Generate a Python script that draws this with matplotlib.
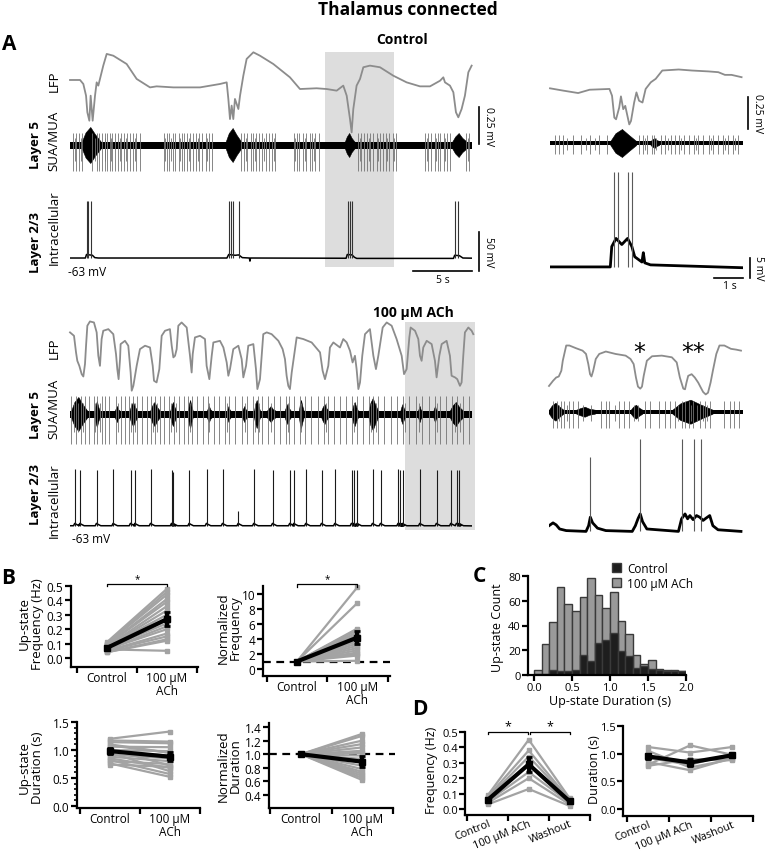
import matplotlib.pyplot as plt
from matplotlib.patches import Patch
from matplotlib.transforms import ScaledTranslation

W, H = 766, 853
plt.rcParams['font.family'] = ['Open Sans', 'DejaVu Sans']

T_MAIN = 34.07    # s shown in the long traces
T_CTRL_IN = 6.72  # s shown in control inset
T_ACH_IN = 6.76   # s shown in ACh inset

# ---------------- A: control, long traces ----------------
ctrl_lfp = [(0.0, 0.0), (0.85, 0.0), (1.13, -0.027), (1.36, -0.106), (1.47, -0.218), (1.64, -0.275),
            (1.75, -0.106), (1.92, -0.275), (2.12, -0.106), (2.26, -0.016), (2.40, -0.038), (2.54, 0.007),
            (2.82, 0.097), (3.11, 0.176), (3.67, 0.164), (4.80, 0.108), (5.65, 0.007), (6.78, -0.050),
            (7.34, -0.043), (8.76, -0.050), (11.02, -0.050), (12.71, -0.027), (13.28, -0.016), (13.42, -0.128),
            (13.56, -0.264), (13.70, -0.173), (13.84, -0.264), (13.98, -0.128), (14.27, -0.196), (14.41, -0.106),
            (14.69, 0.029), (14.97, 0.142), (15.54, 0.187), (16.10, 0.164), (17.23, 0.108), (18.64, 0.018),
            (19.49, -0.061), (20.90, -0.056), (21.75, -0.061), (22.60, -0.072), (23.16, -0.038), (23.45, -0.106),
            (23.73, -0.264), (23.87, -0.354), (24.01, -0.196), (24.29, -0.038), (24.58, 0.007), (24.86, 0.086),
            (25.42, 0.097), (26.27, 0.086), (27.40, 0.029), (28.53, -0.016), (29.66, -0.043), (30.51, -0.043),
            (31.36, -0.005), (31.64, 0.018), (31.78, -0.016), (32.20, -0.038), (32.49, -0.083), (32.71, -0.218),
            (32.91, -0.252), (33.19, -0.196), (33.47, -0.106), (33.76, 0.052), (34.04, 0.097)]
ctrl_window = (21.6, 27.5)
ctrl_mua_bursts = [(1.0, 2.6, 18), (13.2, 14.5, 17), (23.3, 24.1, 12), (32.4, 33.6, 12)]
ctrl_mua_spikes = [0.25, 0.55, 0.8, 1.05, 1.9, 2.25, 2.5, 2.7, 2.95, 3.15, 3.4, 3.6, 3.85, 4.1, 4.3, 4.6,
                   4.85, 5.1, 5.35, 5.6, 5.95, 7.95, 8.2, 8.4, 8.7, 8.9, 9.2, 9.45, 9.7, 9.9, 10.2, 10.45,
                   10.7, 10.95, 11.2, 11.5, 11.75, 12.05, 14.5, 14.75, 15.0, 15.3, 15.55, 15.8, 16.05, 16.3,
                   16.6, 16.85, 17.1, 17.4, 18.95, 19.2, 19.45, 19.75, 20.0, 20.3, 20.55, 20.8, 21.1, 24.4,
                   24.65, 24.9, 25.2, 25.45, 25.7, 26.0, 26.25, 26.5, 26.8, 27.05, 27.35, 27.6, 30.1, 30.35,
                   30.6, 30.9, 31.15, 31.4, 31.7, 31.95, 32.2, 33.6, 33.85]
ctrl_mua_small = [0.4, 0.95, 2.1, 3.0, 3.5, 4.2, 4.75, 5.5, 8.05, 8.55, 9.3, 10.1, 10.85, 11.6, 14.9,
                  15.7, 16.45, 17.25, 19.1, 19.9, 20.7, 24.55, 25.3, 26.1, 26.9, 27.5, 30.25, 31.05,
                  31.8, 33.7]
ctrl_vm = [(0.0, -63), (1.3, -63), (1.4, -58.5), (1.9, -59.5), (2.1, -62.5), (2.4, -63), (13.3, -63),
           (13.45, -58.5), (14.0, -59.5), (14.3, -59), (14.6, -62.5), (15.2, -63), (15.25, -67), (15.3, -63),
           (23.4, -63.3), (23.5, -58.5), (23.9, -59), (24.1, -62), (24.3, -63.5), (32.5, -63.5),
           (32.6, -59.5), (33.0, -60), (33.3, -63), (34.04, -63.2)]
ctrl_spikes = [1.41, 1.55, 1.75, 13.45, 13.62, 13.84, 14.29, 23.53, 23.73, 23.93, 32.63, 32.91]

# ---------------- A: control inset ----------------
ctrl_in_lfp = [(0, 0), (0.46, -0.018), (0.98, -0.037), (1.38, -0.011), (2.07, -0.005), (2.16, -0.058),
               (2.24, -0.229), (2.30, -0.242), (2.41, -0.150), (2.47, -0.063), (2.55, -0.163), (2.62, -0.137),
               (2.67, -0.189), (2.76, -0.282), (2.82, -0.255), (2.93, -0.111), (3.01, -0.032), (3.10, -0.097),
               (3.22, -0.111), (3.33, -0.005), (3.51, 0.047), (3.68, 0.074), (3.91, 0.139), (4.48, 0.147),
               (4.94, 0.139), (5.52, 0.132), (5.86, 0.126), (6.09, 0.105), (6.32, 0.105), (6.67, 0.087)]
ctrl_in_bursts = [(2.1, 3.0, 14), (3.5, 3.8, 5)]
ctrl_in_spikes = [0.17, 0.32, 0.46, 0.8, 1.09, 1.38, 1.72, 1.98, 3.1, 3.24, 3.39, 3.54, 3.62, 3.85, 4.02,
                  4.2, 4.34, 4.48, 4.66, 4.83, 5.0, 5.17, 5.34, 5.52, 5.69, 5.86, 6.03, 6.2, 6.38, 6.53]
ctrl_in_small = [0.6, 1.25, 1.55, 3.3, 3.7, 4.1, 4.56, 5.1, 5.6, 6.1, 6.45]
ctrl_in_vm = [(0, -63), (2.1, -63), (2.15, -58), (2.3, -56), (2.5, -57.5), (2.7, -56), (2.85, -58),
              (2.95, -60.5), (3.2, -61.8), (3.25, -59.5), (3.3, -62), (3.5, -62.5), (6.72, -63.2)]
ctrl_in_spk = [2.24, 2.36, 2.70, 2.84]

# ---------------- A: 100 uM ACh, long traces ----------------
ach_lfp = [(0, 0.158), (0.34, 0.135), (0.51, 0.023), (0.62, -0.034), (0.79, -0.068), (0.99, -0.124),
           (1.13, -0.140), (1.27, -0.056), (1.36, 0.068), (1.47, 0.203), (1.69, 0.232), (2.03, 0.225),
           (2.26, 0.158), (2.40, 0.0), (2.54, -0.068), (2.68, 0.113), (2.82, 0.169), (3.25, 0.180),
           (3.67, 0.146), (3.90, 0.011), (4.01, -0.090), (4.12, -0.158), (4.24, -0.023), (4.29, 0.079),
           (4.66, 0.101), (4.94, 0.068), (5.14, -0.113), (5.23, -0.236), (5.37, -0.203), (5.65, -0.068),
           (5.93, 0.045), (6.36, 0.068), (6.78, 0.056), (7.01, -0.068), (7.12, -0.169), (7.34, -0.180),
           (7.57, -0.090), (7.77, 0.135), (8.05, 0.169), (8.47, 0.180), (8.62, 0.068), (8.76, -0.011),
           (8.90, 0.0), (9.04, 0.045), (9.18, 0.203), (9.46, 0.225), (9.89, 0.191), (10.17, 0.0),
           (10.31, -0.113), (10.40, 0.011), (10.59, 0.124), (11.02, 0.135), (11.44, 0.113), (11.58, -0.068),
           (11.81, -0.158), (12.01, 0.0), (12.15, 0.090), (12.71, 0.101), (13.00, 0.056), (13.28, -0.045),
           (13.42, -0.135), (13.56, -0.090), (13.84, 0.045), (14.27, 0.068), (14.55, -0.023), (14.69, -0.146),
           (14.92, -0.068), (15.11, 0.068), (15.54, 0.079), (15.76, -0.090), (15.88, -0.225), (16.10, -0.158),
           (16.38, 0.146), (16.67, 0.158), (17.09, 0.146), (17.66, 0.101), (18.02, 0.045), (18.22, -0.023),
           (18.36, -0.135), (18.50, -0.203), (18.64, -0.225), (18.79, -0.113), (19.21, 0.124), (19.77, 0.113),
           (20.48, 0.090), (21.19, 0.023), (21.41, -0.101), (21.61, -0.158), (21.89, -0.068), (22.03, 0.056),
           (22.32, 0.090), (22.88, 0.056), (23.16, 0.113), (23.45, 0.090), (23.73, 0.034), (23.95, -0.045),
           (24.15, 0.0), (24.29, -0.090), (24.44, -0.225), (24.58, -0.180), (24.77, 0.0), (25.00, 0.146),
           (25.42, 0.180), (25.71, 0.0), (25.93, -0.090), (26.13, 0.0), (26.50, 0.191), (26.84, 0.225),
           (27.26, 0.203), (27.68, 0.113), (28.11, 0.0), (28.31, -0.124), (28.53, -0.090), (28.76, 0.124),
           (28.87, 0.191), (29.24, 0.169), (29.52, 0.113), (29.66, 0.0), (29.80, -0.034), (29.94, 0.056),
           (30.23, 0.101), (30.65, 0.079), (30.93, -0.034), (31.07, -0.146), (31.30, 0.0), (31.50, 0.079),
           (31.92, 0.101), (32.20, 0.0), (32.34, -0.135), (32.63, -0.146), (32.82, -0.158), (33.05, -0.203),
           (33.19, -0.180), (33.33, 0.0), (33.47, 0.158), (33.76, 0.191), (34.04, 0.169), (34.18, 0.146)]
ach_window = (28.4, 34.3)
ach_mua_bursts = [(0.1, 1.45, 17), (2.1, 2.5, 13), (3.8, 4.2, 8), (5.05, 5.7, 12), (6.8, 7.6, 12),
                  (8.5, 9.0, 12), (10.0, 10.4, 14), (11.6, 12.0, 8), (13.3, 13.6, 8), (14.6, 15.0, 8),
                  (15.6, 16.1, 14), (16.7, 17.4, 8), (18.2, 18.7, 10), (19.4, 19.8, 14), (21.3, 21.9, 10),
                  (23.9, 24.4, 12), (25.3, 26.1, 16), (28.0, 28.4, 10), (29.5, 29.8, 8), (30.8, 31.1, 8),
                  (32.2, 33.3, 12)]
ach_mua_spikes = [0.1, 0.5, 0.9, 1.3, 1.6, 2.0, 2.3, 2.7, 3.0, 3.3, 3.9, 4.3, 4.7, 5.0, 5.3, 5.7, 6.1,
                  6.5, 6.9, 7.2, 7.6, 8.0, 8.4, 8.8, 9.2, 9.7, 10.0, 10.3, 10.8, 11.3, 11.7, 12.2, 12.6,
                  13.1, 13.5, 14.0, 14.6, 15.0, 15.5, 15.9, 16.3, 16.8, 17.3, 17.8, 18.3, 18.6, 19.0, 19.5,
                  19.9, 20.4, 21.0, 21.5, 21.9, 22.4, 22.9, 23.4, 23.9, 24.3, 24.8, 25.3, 25.7, 26.1, 26.6,
                  27.2, 27.7, 28.2, 28.7, 29.3, 29.8, 30.4, 30.9, 31.4, 31.9, 32.4, 32.8, 33.3, 33.8]
ach_mua_small = [0.3, 0.7, 1.1, 2.15, 2.55, 4.1, 5.15, 5.5, 7.0, 7.4, 8.6, 9.0, 10.15, 11.8, 13.3, 14.8,
                 15.7, 16.0, 17.0, 18.45, 19.6, 21.7, 24.1, 25.5, 25.9, 28.4, 29.6, 31.1, 32.6, 33.05]
ach_spikes = [0.42, 0.85, 2.26, 3.67, 5.14, 5.51, 6.84, 8.62, 8.76, 10.11, 11.58, 12.94, 14.27, 15.59,
              17.18, 18.64, 18.98, 20.0, 21.33, 22.46, 23.87, 24.07, 24.35, 25.65, 26.33, 27.82, 27.97,
              28.19, 29.66, 31.07, 32.29, 32.77, 33.0]
ach_spike_peak = [10, 8, 9, 10, 9, 8, 10, 9, 6, 9, 10, 10, -44, 10, 9, 9, 8, 10, 9, 10, 9, 8, 9, 10, 9,
                  10, 9, 8, 10, 9, 9, 8, 8]

# ---------------- A: ACh inset ----------------
ach_in_lfp = [(0, -0.158), (0.14, -0.118), (0.25, -0.092), (0.34, -0.084), (0.43, -0.039), (0.48, 0.039),
              (0.60, 0.158), (0.71, 0.158), (0.94, 0.137), (1.17, 0.118), (1.29, 0.092), (1.37, 0.013),
              (1.43, -0.066), (1.48, -0.084), (1.54, -0.039), (1.63, 0.053), (1.75, 0.092), (1.98, 0.111),
              (2.32, 0.092), (2.67, 0.079), (2.84, 0.053), (2.95, 0.013), (3.03, -0.092), (3.10, -0.163),
              (3.18, -0.179), (3.24, -0.163), (3.30, -0.079), (3.41, 0.039), (3.59, 0.074), (3.93, 0.079),
              (4.28, 0.066), (4.45, 0.026), (4.56, -0.092), (4.68, -0.179), (4.74, -0.184), (4.79, -0.132),
              (4.85, -0.079), (4.97, -0.066), (5.08, -0.092), (5.20, -0.132), (5.29, -0.171), (5.37, -0.205),
              (5.46, -0.224), (5.54, -0.211), (5.63, -0.132), (5.71, -0.039), (5.83, 0.092), (5.94, 0.158),
              (6.11, 0.158), (6.34, 0.132), (6.52, 0.126), (6.69, 0.118)]
ach_in_marks = [(3.13, 0.105, '*'), (5.03, 0.105, '**')]
ach_in_bursts = [(0.0, 0.5, 9), (0.95, 1.6, 5), (2.85, 3.25, 7), (4.3, 5.7, 12)]
ach_in_spikes = [0.14, 0.28, 0.43, 0.54, 0.71, 0.83, 1.0, 1.8, 1.98, 2.09, 2.44, 2.61, 2.78, 3.36, 3.53,
                 3.82, 4.05, 4.22, 4.39, 4.62, 4.74, 4.87, 5.02, 5.25, 5.43, 5.6, 6.11, 6.29, 6.46, 6.63]
ach_in_small = [0.35, 0.62, 1.2, 1.45, 2.3, 2.95, 3.1, 4.5, 4.95, 5.15, 5.35, 5.52]
ach_in_vm = [(0, -61.8), (0.14, -61.1), (0.25, -61.6), (0.37, -62.6), (0.6, -63), (1.29, -63.2),
             (1.38, -61.8), (1.44, -59.7), (1.52, -61.1), (1.69, -62.4), (1.98, -63), (2.9, -63.2),
             (3.01, -61.8), (3.1, -60.1), (3.18, -58.9), (3.26, -60.8), (3.41, -62.6), (4.51, -63.2),
             (4.62, -60.1), (4.74, -58.9), (4.83, -60.1), (4.91, -59.3), (5.02, -60.3), (5.14, -59.3),
             (5.25, -59.7), (5.37, -60.5), (5.48, -59.9), (5.6, -59.3), (5.71, -61.8), (5.89, -62.8),
             (6.69, -63.2)]
ach_in_spk = [1.44, 3.18, 4.64, 5.06, 5.29]
ach_in_spk_peak = [-44.9, -40.5, -40.5, -40.5, -40.5]

# ---------------- B ----------------
pair_labels = ['Control', '100 \u03bcM\nACh']
freq_ctrl = [0.11, 0.10, 0.10, 0.09, 0.09, 0.08, 0.08, 0.08, 0.07, 0.07, 0.06, 0.06, 0.05, 0.05, 0.04, 0.04, 0.06]
freq_ach = [0.48, 0.46, 0.44, 0.41, 0.39, 0.36, 0.33, 0.30, 0.26, 0.24, 0.22, 0.20, 0.17, 0.15, 0.13, 0.12, 0.05]
freq_mean, freq_sem = [0.07, 0.27], [0.01, 0.05]
nfreq_ctrl = [1.0] * 17
nfreq_ach = [10.9, 8.8, 5.4, 5.2, 4.9, 4.6, 4.3, 4.0, 3.7, 3.4, 3.1, 2.8, 2.5, 2.2, 2.0, 1.8, 1.1]
nfreq_mean, nfreq_sem = [1.0, 4.2], [0.0, 0.9]
dur_ctrl = [1.20, 1.17, 1.14, 1.10, 1.06, 1.02, 1.00, 0.97, 0.95, 0.92, 0.88, 0.85, 0.82, 0.80, 0.76, 0.74, 1.08]
dur_ach = [1.33, 1.15, 1.12, 0.95, 1.05, 0.72, 0.98, 0.90, 0.62, 0.85, 0.80, 0.68, 0.57, 0.75, 0.52, 0.70, 0.95]
dur_mean, dur_sem = [0.98, 0.88], [0.05, 0.08]
ndur_ctrl = [1.0] * 17
ndur_ach = [1.30, 1.27, 1.20, 1.15, 1.10, 1.05, 1.02, 0.98, 0.93, 0.88, 0.83, 0.78, 0.74, 0.71, 0.68, 0.65, 0.62]
ndur_mean, ndur_sem = [1.0, 0.89], [0.0, 0.08]

# ---------------- C ----------------
bin_left = [0.0, 0.1, 0.2, 0.3, 0.4, 0.5, 0.6, 0.7, 0.8, 0.9, 1.0, 1.1, 1.2, 1.3, 1.4, 1.5, 1.6, 1.7, 1.8, 1.9]
ach_counts = [4, 25, 43, 71, 57, 52, 63, 78, 65, 54, 67, 44, 33, 16, 9, 12, 5, 4, 4, 3]
ctrl_counts = [1, 1, 4, 3, 3, 4, 16, 11, 26, 28, 34, 19, 15, 6, 7, 5, 4, 3, 3, 3]

# ---------------- D ----------------
wash_labels = ['Control', '100 \u03bcM ACh', 'Washout']
d_freq = [[0.09, 0.08, 0.07, 0.06, 0.05, 0.04, 0.03],
          [0.45, 0.38, 0.34, 0.29, 0.24, 0.20, 0.13],
          [0.07, 0.06, 0.06, 0.05, 0.04, 0.03, 0.02]]
d_freq_mean, d_freq_sem = [0.06, 0.29, 0.05], [0.01, 0.05, 0.01]
d_dur = [[0.80, 1.12, 1.05, 0.95, 0.92, 0.85, 0.78],
         [1.15, 1.02, 0.75, 0.85, 0.80, 0.70, 0.90],
         [0.98, 1.12, 0.90, 0.95, 1.00, 0.92, 0.88]]
d_dur_mean, d_dur_sem = [0.95, 0.84, 0.97], [0.05, 0.06, 0.03]

GRAY_LFP = '#8c8c8c'
GRAY_PAIR = '#a3a3a3'
SHADE = '#dddddd'

fig = plt.figure(figsize=(W / 100, H / 100), dpi=100)


def add_ax(x0, y0, x1, y1):
    return fig.add_axes([x0 / W, 1 - y1 / H, (x1 - x0) / W, (y1 - y0) / H])


def trace_ax(x0, y0, x1, y1, xlim, ylim):
    ax = add_ax(x0, y0, x1, y1)
    ax.set_xlim(*xlim)
    ax.set_ylim(*ylim)
    ax.axis('off')
    return ax


def ftext(x, y, s, **kw):
    kw.setdefault('ha', 'center')
    kw.setdefault('va', 'center')
    fig.text(x / W, 1 - y / H, s, **kw)


def draw_lfp(ax, pts):
    t, v = zip(*pts)
    ax.plot(t, v, color=GRAY_LFP, lw=1.3, clip_on=False)


def draw_mua(ax, t_end, base, bursts, spikes, small, down, up):
    ax.vlines(spikes, down, up, color='0.45', lw=0.6)
    ax.vlines(small, down * 0.6, up * 0.6, color='0.45', lw=0.6)
    ax.fill_between([0, t_end], -base, base, color='k', lw=0)
    for s, e, a in bursts:
        w = e - s
        xs = [s, s + 0.2 * w, s + 0.45 * w, e - 0.3 * w, e]
        env = [base, 0.7 * a, a, 0.6 * a, base]
        ax.fill_between(xs, [-v for v in env], env, color='k', lw=0.4)


def draw_vm(ax, pts, spk, peaks, lw, spk_color='0.2'):
    t, v = zip(*pts)
    ax.plot(t, v, color='k', lw=lw)
    ax.vlines(spk, -63, peaks, color=spk_color, lw=0.8)


# ---------------- panel A: control ----------------
bg = trace_ax(70, 53, 472, 268, (0, T_MAIN), (0, 1))
bg.axvspan(*ctrl_window, color=SHADE, lw=0)

ax = trace_ax(70, 45, 472, 150, (0, T_MAIN), (-0.466, 0.243))
draw_lfp(ax, ctrl_lfp)
ax.plot([34.66, 34.66], [-0.432, -0.182], color='k', lw=1.2, clip_on=False)
ax.text(35.5, -0.307, '0.25 mV', rotation=270, ha='center', va='center', fontsize=7.5)

ax = trace_ax(70, 115, 472, 180, (0, T_MAIN), (-34, 31))
draw_mua(ax, T_MAIN, 3.5, ctrl_mua_bursts, ctrl_mua_spikes, ctrl_mua_small, -26, 12)

ax = trace_ax(70, 190, 472, 275, (0, T_MAIN), (-83.5, 25.5))
draw_vm(ax, ctrl_vm, ctrl_spikes, 10, 1.1)
ax.plot([34.66, 34.66], [-79.7, -29.7], color='k', lw=1.2, clip_on=False)
ax.plot([29.07, 34.07], [-79.7, -79.7], color='k', lw=1.2, clip_on=False)
ax.text(35.5, -54.7, '50 mV', rotation=270, ha='center', va='center', fontsize=7.5)
ax.text(31.6, -84, '5 s', ha='center', va='top', fontsize=7.5)
ax.text(-0.2, -72, '-63 mV', ha='left', va='top', fontsize=8.5)

# control inset
ax = trace_ax(550, 60, 743, 140, (0, T_CTRL_IN), (-0.396, 0.229))
draw_lfp(ax, ctrl_in_lfp)
ax.plot([6.9, 6.9], [-0.318, -0.068], color='k', lw=1.2, clip_on=False)
ax.text(7.22, -0.193, '0.25 mV', rotation=270, ha='center', va='center', fontsize=7.5)

ax = trace_ax(550, 125, 743, 165, (0, T_CTRL_IN), (-21, 19))
draw_mua(ax, T_CTRL_IN, 2.0, ctrl_in_bursts, ctrl_in_spikes, ctrl_in_small, -11, 8)

ax = trace_ax(550, 165, 743, 285, (0, T_CTRL_IN), (-67.2, -37.7))
draw_vm(ax, ctrl_in_vm, ctrl_in_spk, -39.6, 2.0, spk_color='0.35')
ax.plot([6.97, 6.97], [-65.7, -60.7], color='k', lw=1.2, clip_on=False)
ax.plot([5.71, 6.71], [-65.7, -65.7], color='k', lw=1.2, clip_on=False)
ax.text(7.27, -63.2, '5 mV', rotation=270, ha='center', va='center', fontsize=7.5)
ax.text(6.25, -66.3, '1 s', ha='center', va='top', fontsize=7.5)

# ---------------- panel A: ACh ----------------
bg = trace_ax(70, 323, 472, 531, (0, T_MAIN), (0, 1))
bg.axvspan(*ach_window, color=SHADE, lw=0, clip_on=False)

ax = trace_ax(70, 310, 472, 400, (0, T_MAIN), (-0.292, 0.316))
draw_lfp(ax, ach_lfp)

ax = trace_ax(70, 385, 472, 450, (0, T_MAIN), (-35, 30))
draw_mua(ax, T_MAIN, 3.5, ach_mua_bursts, ach_mua_spikes, ach_mua_small, -30, 18)

ax = trace_ax(70, 460, 472, 540, (0, T_MAIN), (-80, 22.5))
vm_pts = [(0.0, -63)]
for t in ach_spikes:
    vm_pts += [(t - 0.12, -63), (t - 0.02, -60), (t + 0.15, -61.5), (t + 0.35, -63)]
vm_pts.append((34.04, -63.2))
draw_vm(ax, vm_pts, ach_spikes, ach_spike_peak, 1.1, spk_color='0.1')
ax.text(0.2, -71, '-63 mV', ha='left', va='top', fontsize=8.5)

# ACh inset
ax = trace_ax(549, 330, 743, 410, (0, T_ACH_IN), (-0.338, 0.287))
draw_lfp(ax, ach_in_lfp)
for t, v, s in ach_in_marks:
    ax.text(t, v, s, ha='center', va='center', fontsize=17, family='DejaVu Sans')

ax = trace_ax(549, 390, 743, 435, (0, T_ACH_IN), (-22.3, 22.7))
draw_mua(ax, T_ACH_IN, 2.0, ach_in_bursts, ach_in_spikes, ach_in_small, -16, 11)

ax = trace_ax(549, 430, 743, 545, (0, T_ACH_IN), (-66.3, -38.0))
draw_vm(ax, ach_in_vm, ach_in_spk, ach_in_spk_peak, 2.0, spk_color='0.35')

# labels panel A
ftext(408, 10, 'Thalamus connected', fontsize=12.5, weight='bold')
ftext(9, 45, 'A', fontsize=15, weight='bold')
ftext(402, 40, 'Control', fontsize=10, weight='bold')
ftext(413, 313, '100 \u03bcM ACh', fontsize=10, weight='bold')
ftext(54, 81, 'LFP', rotation=90, fontsize=9.5)
ftext(35, 145, 'Layer 5', rotation=90, fontsize=9.5, weight='bold')
ftext(54, 141, 'SUA/MUA', rotation=90, fontsize=9.5)
ftext(35, 243, 'Layer 2/3', rotation=90, fontsize=9.5, weight='bold')
ftext(54, 228, 'Intracellular', rotation=90, fontsize=9.5)
ftext(54, 348, 'LFP', rotation=90, fontsize=9.5)
ftext(35, 415, 'Layer 5', rotation=90, fontsize=9.5, weight='bold')
ftext(54, 409, 'SUA/MUA', rotation=90, fontsize=9.5)
ftext(35, 495, 'Layer 2/3', rotation=90, fontsize=9.5, weight='bold')
ftext(54, 501, 'Intracellular', rotation=90, fontsize=9.5)


# ---------------- helpers for B, C, D ----------------
def style(ax, fs=8.5):
    for s in ['top', 'right']:
        ax.spines[s].set_visible(False)
    for s in ['left', 'bottom']:
        ax.spines[s].set_linewidth(1.6)
    ax.tick_params(direction='out', width=1.6, length=4, labelsize=fs, pad=1.5)
    ax.patch.set_alpha(0)


def cat_axis(ax, labels, rot=0, fs=8.5):
    n = len(labels)
    ax.set_xticks([i - 0.5 for i in range(n + 1)])
    ax.set_xticklabels([])
    ax.set_xticks(range(n), minor=True)
    if rot:
        lbls = ax.set_xticklabels(labels, minor=True, rotation=rot, ha='right', rotation_mode='anchor')
        for lb in lbls:
            lb.set_transform(lb.get_transform() + ScaledTranslation(0.08, 0, fig.dpi_scale_trans))
    else:
        ax.set_xticklabels(labels, minor=True, linespacing=0.95)
    ax.tick_params(axis='x', which='minor', length=0, labelsize=fs, pad=3)


def paired(ax, groups, mean, sem):
    x = list(range(len(groups)))
    for vals in zip(*groups):
        ax.plot(x, vals, color=GRAY_PAIR, lw=1.6, marker='s', ms=3, mec=GRAY_PAIR, zorder=2, clip_on=False)
    ax.errorbar(x, mean, yerr=sem, color='k', lw=3, marker='s', ms=5, elinewidth=3,
                capsize=2.5, capthick=2, zorder=3, clip_on=False)


def bracket(ax, x0, x1, y, h, fs):
    ax.plot([x0, x0, x1, x1], [y - h, y, y, y - h], color='k', lw=0.9, clip_on=False)
    ax.text((x0 + x1) / 2, y, '*', ha='center', va='bottom', fontsize=fs, clip_on=False)


# ---------------- panel B ----------------
ftext(8, 578, 'B', fontsize=15, weight='bold')

ax = add_ax(71, 587, 198, 668)
style(ax)
paired(ax, [freq_ctrl, freq_ach], freq_mean, freq_sem)
ax.set_ylim(-0.0625, 0.5)
ax.set_xlim(-0.6, 1.52)
ax.set_yticks([0.0, 0.1, 0.2, 0.3, 0.4, 0.5])
cat_axis(ax, pair_labels)
bracket(ax, 0, 1, 0.515, 0.015, 7)
ftext(31, 624, 'Up-state\nFrequency (Hz)', rotation=90, fontsize=9.5, linespacing=0.95)

ax = add_ax(263, 587, 390, 677)
style(ax)
paired(ax, [nfreq_ctrl, nfreq_ach], nfreq_mean, nfreq_sem)
ax.axhline(1, color='k', lw=1.6, ls=(0, (3.5, 2.5)), zorder=1)
ax.set_ylim(-0.93, 11.07)
ax.set_xlim(-0.56, 1.54)
ax.set_yticks([0, 2, 4, 6, 8, 10])
cat_axis(ax, pair_labels)
bracket(ax, 0, 1, 11.3, 0.3, 7)
ftext(229, 628, 'Normalized\nFrequency', rotation=90, fontsize=9.5, linespacing=0.95)

ax = add_ax(77, 723, 200, 809)
style(ax)
paired(ax, [dur_ctrl, dur_ach], dur_mean, dur_sem)
ax.set_ylim(-0.036, 1.5)
ax.set_xlim(-0.55, 1.5)
ax.set_yticks([0.0, 0.5, 1.0, 1.5])
ax.set_yticks([0.1, 0.2, 0.3, 0.4, 0.6, 0.7, 0.8, 0.9, 1.1, 1.2, 1.3, 1.4], minor=True)
ax.tick_params(axis='y', which='minor', length=2.5, width=1.2)
cat_axis(ax, pair_labels)
ftext(31, 768, 'Up-state\nDuration (s)', rotation=90, fontsize=9.5, linespacing=0.95)

ax = add_ax(269, 724, 393, 809)
style(ax)
paired(ax, [ndur_ctrl, ndur_ach], ndur_mean, ndur_sem)
ax.axhline(1, color='k', lw=1.6, ls=(0, (3.5, 2.5)), zorder=1, xmax=1.02, clip_on=False)
ax.set_ylim(0.209, 1.459)
ax.set_xlim(-0.52, 1.5)
ax.set_yticks([0.4, 0.6, 0.8, 1.0, 1.2, 1.4])
cat_axis(ax, pair_labels)
ftext(229, 766, 'Normalized\nDuration', rotation=90, fontsize=9.5, linespacing=0.95)

# ---------------- panel C ----------------
ftext(479, 577, 'C', fontsize=15, weight='bold')
ax = add_ax(528, 577, 686, 676)
style(ax, fs=8)
ax.tick_params(pad=1)
ax.bar(bin_left, ach_counts, width=0.1, align='edge', color='#9a9a9a', edgecolor='#3a3a3a', lw=1.0)
ax.bar(bin_left, ctrl_counts, width=0.1, align='edge', color='#1e1e1e', edgecolor='#3a3a3a', lw=1.0)
ax.set_xlim(-0.079, 2.0)
ax.set_ylim(0, 80)
ax.set_xticks([0.0, 0.5, 1.0, 1.5, 2.0])
ax.set_xticklabels(['0.0', '0.5', '1.0', '1.5', '2.0'])
ax.set_yticks([0, 20, 40, 60, 80])
ax.legend(handles=[Patch(facecolor='#1e1e1e', edgecolor='#3a3a3a', label='Control'),
                   Patch(facecolor='#9a9a9a', edgecolor='#3a3a3a', label='100 \u03bcM ACh')],
          loc='upper left', bbox_to_anchor=(612 / W, 1 - 563 / H), bbox_transform=fig.transFigure,
          frameon=False, fontsize=8.5, handlelength=0.8, handleheight=0.8, handletextpad=0.5,
          labelspacing=0.15, borderpad=0, borderaxespad=0)
ftext(498, 628, 'Up-state Count', rotation=90, fontsize=9)
ftext(610, 702, 'Up-state Duration (s)', fontsize=9)

# ---------------- panel D ----------------
ftext(420, 710, 'D', fontsize=15, weight='bold')
ax = add_ax(465, 733, 590, 816)
style(ax, fs=8)
ax.tick_params(axis='y', pad=1)
paired(ax, d_freq, d_freq_mean, d_freq_sem)
ax.set_ylim(-0.039, 0.5)
ax.set_xlim(-0.56, 2.5)
ax.set_yticks([0.0, 0.1, 0.2, 0.3, 0.4, 0.5])
cat_axis(ax, wash_labels, rot=22, fs=7.8)
ax.tick_params(axis='x', which='minor', pad=2)
bracket(ax, 0, 0.97, 0.5, 0.015, 9)
bracket(ax, 1.03, 2, 0.5, 0.015, 9)
ftext(431, 770, 'Frequency (Hz)', rotation=90, fontsize=9)

ax = add_ax(623, 727, 753, 817)
style(ax, fs=8)
ax.tick_params(axis='y', pad=1)
paired(ax, d_dur, d_dur_mean, d_dur_sem)
ax.set_ylim(-0.127, 1.5)
ax.set_xlim(-0.6, 2.5)
ax.set_yticks([0.0, 0.5, 1.0, 1.5])
cat_axis(ax, wash_labels, rot=22, fs=7.8)
ax.tick_params(axis='x', which='minor', pad=2)
ftext(594, 770, 'Duration (s)', rotation=90, fontsize=9)

fig.savefig('out.png', dpi=100)
